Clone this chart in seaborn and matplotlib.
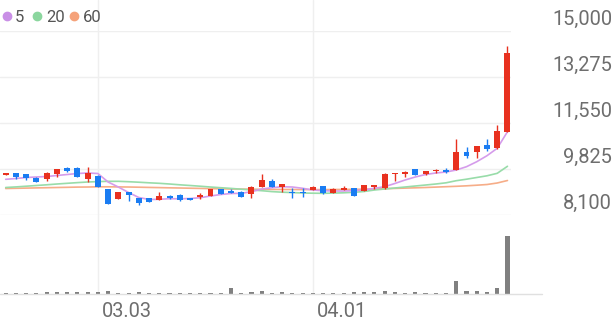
import numpy as np
import matplotlib
matplotlib.use("Agg")
import matplotlib.pyplot as plt
import matplotlib.transforms as mtransforms
from matplotlib.lines import Line2D
import seaborn as sns

# ---------------- data ----------------
tick_idx = [9, 30]
tick_labels = ["03.03", "04.01"]

opens = [9590, 9652, 9615, 9490, 9440, 9626, 9850, 9850, 9450, 9562,
         9052, 8677, 8940, 8714, 8714, 8651, 8812, 8850, 8714, 8752,
         8801, 9063, 8989, 8964, 8876, 9150, 9352, 9150, 8964, 8964,
         9026, 9176, 8926, 9026, 9090, 8999, 9150, 9090, 9626, 9626,
         9802, 9615, 9739, 9776, 9776, 10451, 10451, 10714, 10589, 11201]
highs = [9670, 9660, 9630, 9500, 9710, 9810, 9880, 9870, 9880, 9580,
         9070, 8950, 8950, 8730, 8720, 8950, 8820, 8860, 8720, 8925,
         9080, 9070, 9075, 8975, 9160, 9626, 9450, 9260, 9090, 9090,
         9160, 9190, 9110, 9176, 9100, 9220, 9220, 9676, 9680, 9750,
         9810, 9750, 9802, 9840, 10939, 10650, 10680, 10927, 11452, 14426]
lows = [9570, 9450, 9400, 9320, 9375, 9500, 9690, 9500, 9326, 9140,
        8490, 8670, 8612, 8464, 8570, 8640, 8700, 8620, 8640, 8677,
        8790, 8860, 8910, 8760, 8714, 9140, 9120, 8964, 8714, 8776,
        9020, 8890, 8920, 9010, 8790, 8990, 9052, 9080, 9375, 9525,
        9580, 9600, 9676, 9650, 9770, 10237, 10237, 10500, 10570, 11190]
closes = [9650, 9525, 9480, 9340, 9675, 9802, 9740, 9502, 9652, 9150,
          8501, 8940, 8850, 8526, 8576, 8812, 8714, 8651, 8651, 8838,
          9075, 8876, 8926, 8776, 9150, 9401, 9127, 9250, 8900, 8920,
          9150, 8900, 9052, 9090, 8801, 9214, 9214, 9626, 9676, 9713,
          9589, 9739, 9776, 9713, 10440, 10301, 10676, 10550, 11227, 14175]
volume = [50, 45, 60, 55, 95, 70, 75, 80, 90, 110,
          160, 45, 30, 80, 40, 30, 30, 30, 30, 30,
          35, 40, 310, 50, 85, 120, 60, 65, 50, 50,
          15, 60, 20, 20, 65, 65, 65, 130, 65, 60,
          65, 30, 30, 30, 640, 130, 130, 110, 280, 2900]
ma5 = [9427, 9457, 9495, 9514, 9532, 9570, 9607, 9645, 9664, 9645,
       9326, 9138, 8932, 8745, 8670, 8677, 8700, 8696, 8707, 8737,
       8801, 8857, 8895, 8902, 8962, 9063, 9112, 9150, 9138, 9090,
       9026, 9000, 8988, 8988, 9000, 9026, 9090, 9150, 9270, 9401,
       9514, 9607, 9664, 9701, 9776, 9900, 10087, 10312, 10590, 11212]
ma20 = [9120, 9142, 9168, 9195, 9221, 9251, 9277, 9303, 9326, 9341,
        9352, 9352, 9337, 9318, 9296, 9277, 9251, 9221, 9195, 9168,
        9138, 9112, 9086, 9056, 9026, 9000, 8966, 8944, 8929, 8914,
        8906, 8902, 8910, 8921, 8940, 8970, 9026, 9063, 9101, 9138,
        9176, 9213, 9251, 9296, 9375, 9431, 9495, 9559, 9652, 9915]
ma60 = [9082, 9090, 9097, 9105, 9112, 9120, 9127, 9135, 9138, 9146,
        9146, 9142, 9138, 9131, 9123, 9116, 9108, 9101, 9093, 9086,
        9078, 9071, 9063, 9060, 9056, 9052, 9048, 9045, 9045, 9041,
        9041, 9041, 9045, 9048, 9052, 9056, 9063, 9075, 9086, 9097,
        9108, 9120, 9135, 9150, 9165, 9183, 9206, 9232, 9289, 9382]
y_ticks = [15000, 13275, 11550, 9825, 8100]
y_tick_labels = ["15,000", "13,275", "11,550", "9,825", "8,100"]
legend_labels = ["5", "20", "60"]

# ---------------- style ----------------
sns.set_theme(style="white")
plt.rcParams['font.family'] = ['Roboto', 'DejaVu Sans']

UP = '#e8311f'
DOWN = '#1a7cf2'
C5, C20, C60 = '#d59ceb', '#98dca9', '#f6ad88'
L5, L20, L60 = '#c98fe6', '#8bd69e', '#f5a27a'
GRID = '#efefef'
TXT = '#6e6e6e'

W, H = 616, 321
fig = plt.figure(figsize=(W / 100, H / 100), dpi=100)
fig.patch.set_facecolor('white')

def fx(px):
    return px / W

def fy(py):
    return 1 - py / H

n = len(closes)
idx = np.arange(n)
step, x0 = 10.24, 5.7
xlim = ((0 - x0) / step, (511 - x0) / step)

price_top, price_bot = 30.7, 214.7
vol_base, vol_top = 293.7, 235.7

# background axes for vertical grid lines
axbg = fig.add_axes([0, fy(vol_base), fx(511), fy(0) - fy(vol_base)])
axbg.set_xlim(xlim)
axbg.set_axis_off()
for t in tick_idx:
    axbg.axvline(t, color=GRID, lw=1, zorder=0)

# price axes
ax = fig.add_axes([0, fy(price_bot), fx(511), (price_bot - price_top) / H])
ax.patch.set_alpha(0)
ax.set_xlim(xlim)
ax.set_ylim(y_ticks[-1], y_ticks[0])
ax.set_axis_off()
for v in y_ticks:
    ax.axhline(v, color=GRID, lw=1, zorder=0)

sns.lineplot(x=idx, y=ma60, ax=ax, color=C60, lw=1.2, zorder=2)
sns.lineplot(x=idx, y=ma20, ax=ax, color=C20, lw=1.2, zorder=2)
sns.lineplot(x=idx, y=ma5, ax=ax, color=C5, lw=1.2, zorder=2)

o = np.array(opens, float)
c = np.array(closes, float)
hi = np.array(highs, float)
lo = np.array(lows, float)
cols = [UP if cc >= oo else DOWN for oo, cc in zip(o, c)]
ax.vlines(idx, lo, hi, colors=cols, lw=1.0, zorder=3)
body_bottom = np.minimum(o, c)
body_h = np.maximum(np.abs(c - o), 40)
ax.bar(idx, body_h, bottom=body_bottom, width=0.58, color=cols, linewidth=0, zorder=4)

# y labels on the right
ytrans = mtransforms.blended_transform_factory(fig.transFigure, ax.transData) + \
    mtransforms.ScaledTranslation(0, 6 / 100, fig.dpi_scale_trans)
for v, lab in zip(y_ticks, y_tick_labels):
    ax.text(fx(612), v, lab, transform=ytrans, ha='right', va='baseline',
            fontsize=14.4, color=TXT)

# volume axes
axv = fig.add_axes([0, fy(vol_base), fx(511), (vol_base - vol_top) / H])
axv.patch.set_alpha(0)
sns.barplot(x=idx, y=volume, ax=axv, color='#808080', saturation=1,
            width=0.4, linewidth=0)
axv.set_xlim(xlim)
axv.set_ylim(0, max(volume))
axv.set_axis_off()

fig.add_artist(Line2D([0, fx(542)], [fy(vol_base), fy(vol_base)],
                      transform=fig.transFigure, color='#e0e0e0', lw=1))

# x labels
xtrans = mtransforms.blended_transform_factory(axv.transData, fig.transFigure) + \
    mtransforms.ScaledTranslation(4 / 100, 0, fig.dpi_scale_trans)
for t, lab in zip(tick_idx, tick_labels):
    axv.text(t, fy(317), lab, transform=xtrans, ha='left', va='baseline',
             fontsize=14.4, color=TXT)

# legend
dot_x = [6.7, 37.3, 74]
txt_x = [15, 46.7, 83]
for dx, tx, lab, col in zip(dot_x, txt_x, legend_labels, [L5, L20, L60]):
    fig.add_artist(Line2D([fx(dx)], [fy(15.7)], transform=fig.transFigure,
                          marker='o', markersize=6, color=col, lw=0))
    fig.text(fx(tx), fy(21.7), lab, ha='left', va='baseline', fontsize=12,
             color='#555555')

fig.savefig('out.png', dpi=100, facecolor='white')
